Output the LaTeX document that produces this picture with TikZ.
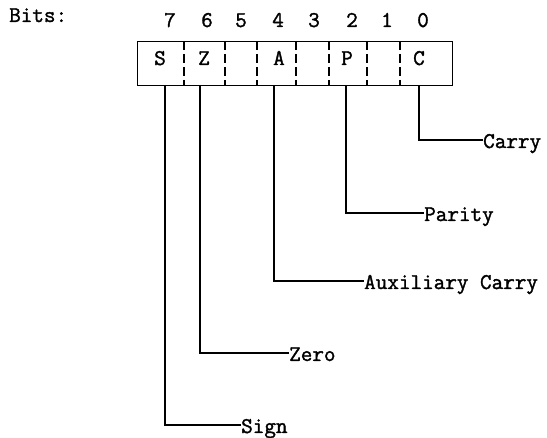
\documentclass[tikz,border=0pt]{standalone}
\usepackage{fontspec}
\setmonofont{Latin Modern Mono}[FakeBold=1.5]
\begin{document}
\begin{tikzpicture}[x=1pt,y=-1pt,
  every node/.style={font=\fontsize{22.5}{24}\ttfamily, inner sep=0pt},
  wire/.style={line width=1.2pt},
  divider/.style={line width=1.1pt, dash pattern=on 9pt off 4pt},
  lbl/.style={anchor=west, text height=16pt, text depth=0pt},
  num/.style={anchor=base}]
\useasboundingbox (0,0) rectangle (547,438);
% register box
\node[draw, line width=1.2pt, minimum width=315pt, minimum height=44pt, anchor=north west] (reg) at (137,41) {};
\foreach \x in {184,225,257,296,329,367,400}
  \draw[divider] (\x,41) -- (\x,85);
% flag letters
\node[num] (S) at (160,65) {S};
\node[num] (Z) at (204,65) {Z};
\node[num] (A) at (279,65) {A};
\node[num] (P) at (347,65) {P};
\node[num] (C) at (419,65) {C};
% bit numbers
\node[anchor=base west] (bits) at (9,22) {Bits:};
\node[num] (n7) at (170,27) {7};
\node[num] (n6) at (207,27) {6};
\node[num] (n5) at (241,27) {5};
\node[num] (n4) at (278,27) {4};
\node[num] (n3) at (314,27) {3};
\node[num] (n2) at (352,27) {2};
\node[num] (n1) at (387,27) {1};
\node[num] (n0) at (423,27) {0};
% labels
\node[lbl] (carry) at (483,140) {Carry};
\node[lbl] (parity) at (424,213) {Parity};
\node[lbl] (aux) at (364,281) {Auxiliary Carry};
\node[lbl] (zero) at (289,353) {Zero};
\node[lbl] (sign) at (241,425) {Sign};
% connector start points
\coordinate (s7) at (165,85);
\coordinate (s6) at (200,85);
\coordinate (s4) at (274,85);
\coordinate (s2) at (346,85);
\coordinate (s0) at (419,85);
\draw[wire] (s0) |- (carry.west);
\draw[wire] (s2) |- (parity.west);
\draw[wire] (s4) |- (aux.west);
\draw[wire] (s6) |- (zero.west);
\draw[wire] (s7) |- (sign.west);
\end{tikzpicture}
\end{document}
